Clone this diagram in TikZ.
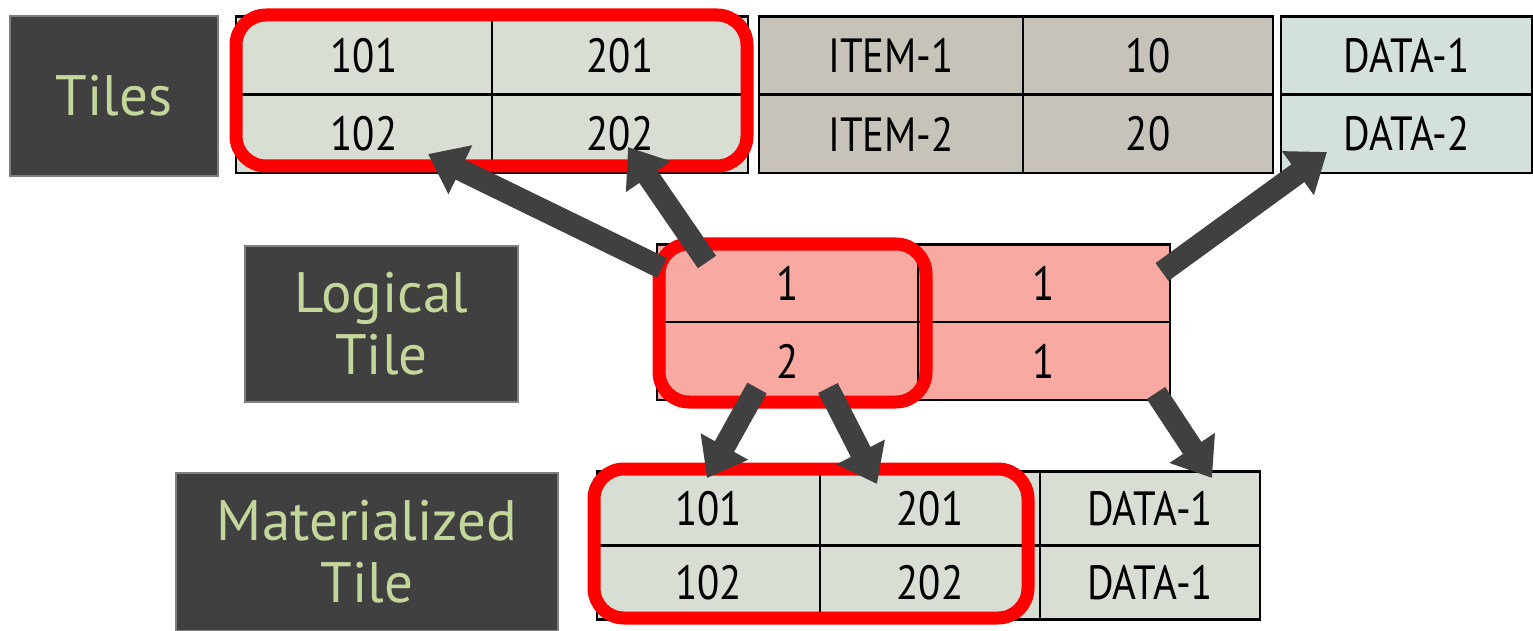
\documentclass[tikz,border=0pt]{standalone}
\usepackage{fontspec}
\setmainfont[FakeStretch=0.85]{PT Sans}
\newfontfamily\labelfont{PT Sans}
\usetikzlibrary{arrows.meta}

\definecolor{slate}{HTML}{404040}
\definecolor{slateline}{HTML}{7F7F7F}
\definecolor{leaf}{HTML}{C3D69B}
\definecolor{tilefill}{HTML}{D9DED4}
\definecolor{itemfill}{HTML}{C7C2BA}
\definecolor{datafill}{HTML}{D4E0DC}
\definecolor{logfill}{HTML}{F8A9A2}

\begin{document}
\begin{tikzpicture}[x=0.5pt,y=-0.5pt,
  cell/.style={draw=black,line width=1.4pt,inner sep=0pt,minimum height=39pt,
    font=\fontsize{24}{26}\selectfont},
  lbl/.style={draw=slateline,fill=slate,text=leaf,line width=1pt,inner sep=0pt,
    align=center,font=\labelfont\fontsize{28.5}{31}\selectfont},
  hilite/.style={draw=red,line width=6.5pt,rounded corners=15pt},
  link/.style={draw=slate,line width=11pt,-{Triangle[length=18pt,width=26pt]}}]
  \useasboundingbox (0,0) rectangle (1533,631);

  % row labels
  \node[lbl,minimum width=104pt,minimum height=80pt] (tiles) at (114,96) {Tiles};
  \node[lbl,minimum width=136.5pt,minimum height=78pt] (logical) at (381.5,324) {Logical\\Tile};
  \node[lbl,minimum width=191pt,minimum height=79pt] (mat) at (367,552) {Materialized\\Tile};

  % tiles
  \node[cell,fill=tilefill,minimum width=128pt] (t11) at (364,55.5) {101};
  \node[cell,fill=tilefill,minimum width=128pt] (t12) at (620,55.5) {201};
  \node[cell,fill=tilefill,minimum width=128pt] (t21) at (364,134) {102};
  \node[cell,fill=tilefill,minimum width=128pt] (t22) at (620,134) {202};
  \node[cell,fill=itemfill,minimum width=132pt] (i11) at (891,55.5) {ITEM-1};
  \node[cell,fill=itemfill,minimum width=125pt] (i12) at (1148,55.5) {10};
  \node[cell,fill=itemfill,minimum width=132pt] (i21) at (891,134) {ITEM-2};
  \node[cell,fill=itemfill,minimum width=125pt] (i22) at (1148,134) {20};
  \node[cell,fill=datafill,minimum width=125.5pt] (d1) at (1406.5,55.5) {DATA-1};
  \node[cell,fill=datafill,minimum width=125.5pt] (d2) at (1406.5,134) {DATA-2};

  % logical tile
  \node[cell,fill=logfill,minimum width=130.5pt] (l11) at (787.5,283.5) {1};
  \node[cell,fill=logfill,minimum width=126pt] (l12) at (1044,283.5) {1};
  \node[cell,fill=logfill,minimum width=130.5pt] (l21) at (787.5,361) {2};
  \node[cell,fill=logfill,minimum width=126pt] (l22) at (1044,361) {1};

  % materialized tile
  \node[cell,fill=tilefill,minimum width=111.5pt,minimum height=37pt] (m11) at (708.5,508.5) {101};
  \node[cell,fill=tilefill,minimum width=110pt,minimum height=37pt] (m12) at (930,508.5) {201};
  \node[cell,fill=tilefill,minimum width=110pt,minimum height=37pt] (m13) at (1150,508.5) {DATA-1};
  \node[cell,fill=tilefill,minimum width=111.5pt,minimum height=37pt] (m21) at (708.5,582.5) {102};
  \node[cell,fill=tilefill,minimum width=110pt,minimum height=37pt] (m22) at (930,582.5) {202};
  \node[cell,fill=tilefill,minimum width=110pt,minimum height=37pt] (m23) at (1150,582.5) {DATA-1};

  % highlighted blocks
  \draw[hilite] (236,15) rectangle (747,166);
  \draw[hilite] (659,244) rectangle (926,402);
  \draw[hilite] (594,469) rectangle (1028,618);

  % arrow ends
  \coordinate (s1) at (662,268);  \coordinate (e1) at (428,154);
  \coordinate (s2) at (707,262);  \coordinate (e2) at (628,147);
  \coordinate (s3) at (1162,272); \coordinate (e3) at (1327,152);
  \coordinate (s4) at (757,388);  \coordinate (e4) at (707,478);
  \coordinate (s5) at (828,388);  \coordinate (e5) at (877,484);
  \coordinate (s6) at (1156,393); \coordinate (e6) at (1212,478);

  \foreach \i in {1,...,6}
    \draw[link] (s\i) -- (e\i);
\end{tikzpicture}
\end{document}
